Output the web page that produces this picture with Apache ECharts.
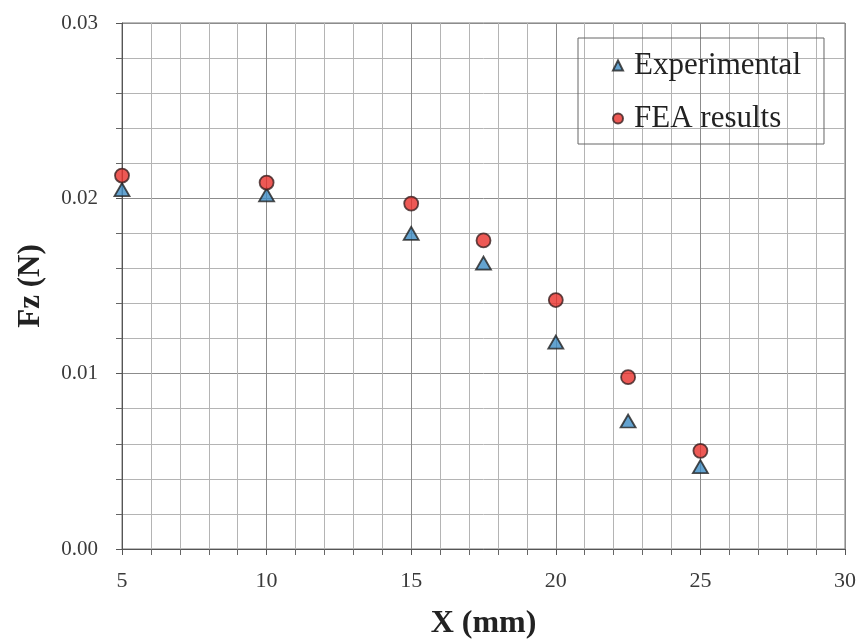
<!DOCTYPE html>
<html>
<head>
<meta charset="utf-8">
<script src="https://cdn.jsdelivr.net/npm/echarts@6/dist/echarts.min.js"></script>
<style>html,body{margin:0;padding:0;background:#fff;}#c{width:859px;height:640px;}</style>
</head>
<body>
<div id="c"></div>
<script>
const xValues = [5, 10, 15, 17.5, 20, 22.5, 25];
const experimental = [0.0205, 0.0202, 0.0180, 0.0163, 0.0118, 0.0073, 0.0047];
const fea = [0.0213, 0.0209, 0.0197, 0.0176, 0.0142, 0.0098, 0.0056];
const seriesNames = ['Experimental', 'FEA results'];

const FONT = 'Liberation Serif';
const chart = echarts.init(document.getElementById('c'), null, {renderer: 'canvas'});
chart.setOption({
  animation: false,
  backgroundColor: '#fff',
  grid: {left: 122, right: 14, top: 23, bottom: 91, containLabel: false, outerBoundsMode: 'none',
    show: true, borderColor: '#777', borderWidth: 1},
  legend: {
    left: 578, top: 38, orient: 'vertical',
    data: [
      {name: seriesNames[0], icon: 'triangle'},
      {name: seriesNames[1], icon: 'circle'}
    ],
    itemWidth: 10, itemHeight: 10, itemGap: 22,
    padding: [12, 23, 10, 34],
    borderColor: '#666', borderWidth: 1,
    textStyle: {fontFamily: FONT, fontSize: 31, color: '#222', padding: [0, 0, 0, 6]}
  },
  xAxis: {
    type: 'value', min: 5, max: 30, interval: 5,
    name: 'X (mm)', nameLocation: 'middle', nameGap: 59,
    nameTextStyle: {fontFamily: FONT, fontSize: 32, fontWeight: 'bold', color: '#222'},
    axisLine: {show: true, onZero: false, lineStyle: {color: '#555'}},
    axisTick: {show: true, length: 6, lineStyle: {color: '#555'}},
    minorTick: {show: true, splitNumber: 5, length: 6, lineStyle: {color: '#666'}},
    axisLabel: {fontFamily: FONT, fontSize: 22, color: '#3a3a3a', margin: 21},
    splitLine: {show: true, lineStyle: {color: '#8c8c8c', width: 1}},
    minorSplitLine: {show: true, lineStyle: {color: '#b4b4b4', width: 1}}
  },
  yAxis: {
    type: 'value', min: 0, max: 0.03, interval: 0.01,
    name: 'Fz (N)', nameLocation: 'middle', nameGap: 76,
    nameTextStyle: {fontFamily: FONT, fontSize: 31, fontWeight: 'bold', color: '#222'},
    axisLine: {show: true, lineStyle: {color: '#555'}},
    axisTick: {show: true, length: 6, lineStyle: {color: '#555'}},
    minorTick: {show: true, splitNumber: 5, length: 6, lineStyle: {color: '#666'}},
    axisLabel: {fontFamily: FONT, fontSize: 21, color: '#3a3a3a', margin: 24,
      formatter: v => v.toFixed(2)},
    splitLine: {show: true, lineStyle: {color: '#8c8c8c', width: 1}},
    minorSplitLine: {show: true, lineStyle: {color: '#b4b4b4', width: 1}}
  },
  series: [
    {
      name: seriesNames[0], type: 'scatter', symbol: 'triangle', symbolSize: [15, 13], z: 3,
      data: xValues.map((x, i) => [x, experimental[i]]),
      itemStyle: {color: '#3d8cc4', borderColor: '#222', borderWidth: 1.8}
    },
    {
      name: seriesNames[1], type: 'scatter', symbol: 'circle', symbolSize: 14, z: 4,
      data: xValues.map((x, i) => [x, fea[i]]),
      itemStyle: {color: '#e8302a', borderColor: '#3a2020', borderWidth: 1.8}
    }
  ]
});
</script>
</body>
</html>
